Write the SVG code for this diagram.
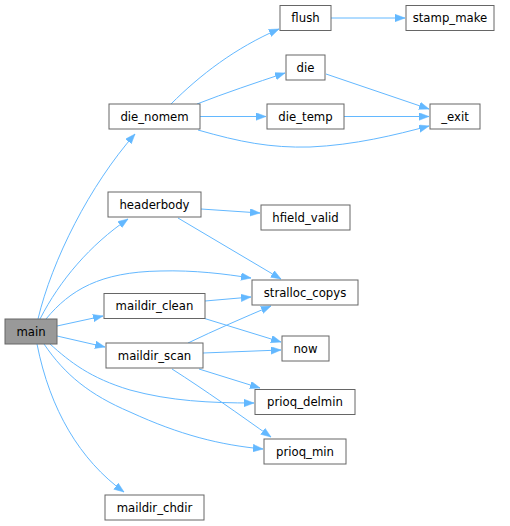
<svg xmlns="http://www.w3.org/2000/svg" width="510" height="526" viewBox="0 0 510 526">
<defs>
<style>
.n rect{fill:#fff;stroke:#666;stroke-width:1}
.n text{font-family:"DejaVu Sans",sans-serif;font-size:11.7px;fill:#000;text-anchor:middle}
#main rect{fill:#999}
.e path{fill:none;stroke:#63b8ff;stroke-width:1;marker-end:url(#ah)}
</style>
<marker id="ah" markerUnits="userSpaceOnUse" markerWidth="11" markerHeight="8" refX="10" refY="3.75" orient="auto">
<path d="M0,0 L10,3.75 L0,7.5 z" fill="#63b8ff" stroke="#63b8ff" stroke-width="0.5"/>
</marker>
</defs>
<rect width="510" height="526" fill="#fff"/>
<g id="edges" class="e">
<path d="M38,319 C52,260 90,185 135,134"/>
<path d="M40,319 C60,280 90,245 128,219"/>
<path d="M46,319 C70,290 100,272 160,271 C195,270 225,274 251,278"/>
<path d="M57,326 L103,316"/>
<path d="M57,336 L105,347"/>
<path d="M50,344 C70,362 90,378 130,390 C170,401 210,403 254,403"/>
<path d="M44,344 C65,375 90,395 130,412 C180,435 220,445 263,449"/>
<path d="M37,344 C50,410 80,460 124,492"/>
<path d="M171,104 C200,75 235,48 279,29"/>
<path d="M197,104 C225,93 255,83 285,73"/>
<path d="M200,116.5 L266,116.5"/>
<path d="M198,130 C240,142 270,148 310,147 C355,145 395,135 429,126"/>
<path d="M331,18 L405,18"/>
<path d="M326,74 L429,109"/>
<path d="M344,116.5 L429,116.5"/>
<path d="M201,209 L260,213"/>
<path d="M178,218 L281,279"/>
<path d="M205,301 L251,297"/>
<path d="M203,318 L281,342"/>
<path d="M188,343 C215,330 245,317 271,306"/>
<path d="M203,353 L281,350"/>
<path d="M199,369 L260,388"/>
<path d="M172,369 C205,390 240,415 271,437"/>
</g>
<g id="main" class="n"><rect x="5" y="319" width="52" height="25"/><text x="31" y="335.7">main</text></g>
<g id="die_nomem" class="n"><rect x="109" y="104" width="91" height="25"/><text x="154.5" y="120.7">die_nomem</text></g>
<g id="flush" class="n"><rect x="280" y="5.5" width="51" height="25"/><text x="305.5" y="22.2">flush</text></g>
<g id="stamp_make" class="n"><rect x="406" y="5.5" width="88" height="25"/><text x="450" y="22.2">stamp_make</text></g>
<g id="die" class="n"><rect x="286" y="55" width="39" height="25"/><text x="305.5" y="71.7">die</text></g>
<g id="die_temp" class="n"><rect x="267" y="104" width="77" height="25"/><text x="305.5" y="120.7">die_temp</text></g>
<g id="_exit" class="n"><rect x="430" y="104" width="50" height="25"/><text x="455" y="120.7">_exit</text></g>
<g id="headerbody" class="n"><rect x="108" y="192" width="93" height="25"/><text x="154.5" y="208.7">headerbody</text></g>
<g id="hfield_valid" class="n"><rect x="261" y="205" width="89" height="25"/><text x="305.5" y="221.7">hfield_valid</text></g>
<g id="stralloc_copys" class="n"><rect x="252" y="280" width="106" height="25"/><text x="305" y="296.7">stralloc_copys</text></g>
<g id="maildir_clean" class="n"><rect x="104" y="293.5" width="101" height="25"/><text x="154.5" y="310.2">maildir_clean</text></g>
<g id="now" class="n"><rect x="282" y="336" width="47" height="25"/><text x="305.5" y="352.7">now</text></g>
<g id="maildir_scan" class="n"><rect x="106" y="343" width="97" height="25"/><text x="154.5" y="359.7">maildir_scan</text></g>
<g id="prioq_delmin" class="n"><rect x="255" y="389.5" width="100" height="25"/><text x="305" y="406.2">prioq_delmin</text></g>
<g id="prioq_min" class="n"><rect x="264" y="439" width="82" height="25"/><text x="305" y="455.7">prioq_min</text></g>
<g id="maildir_chdir" class="n"><rect x="105" y="495" width="99" height="25"/><text x="154.5" y="511.7">maildir_chdir</text></g>
</svg>
